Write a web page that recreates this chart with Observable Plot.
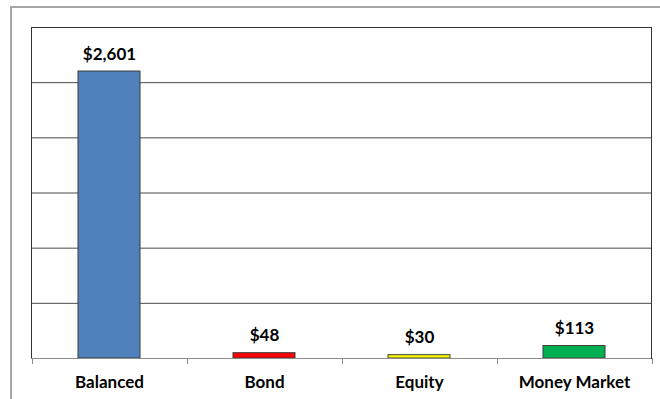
<!DOCTYPE html>
<html><head><meta charset="utf-8">
<script src="https://cdn.jsdelivr.net/npm/d3@7"></script>
<script src="https://cdn.jsdelivr.net/npm/@observablehq/plot@0.6"></script>
<style>
body{margin:0;background:#fff;}
#wrap{position:relative;width:660px;height:399px;overflow:hidden;}
#border{position:absolute;left:10px;top:6px;width:700px;height:500px;border:2px solid #a6a6a6;}
#chart{position:absolute;left:0;top:0;}
</style></head><body>
<div id="wrap"><div id="border"></div><div id="chart"></div></div>
<script>
const categories = ["Balanced", "Bond", "Equity", "Money Market"];
const values = [2601, 48, 30, 113];
const colors = ["#4F81BD", "#FF0000", "#FFFF00", "#00B050"];
const gridTicks = [500, 1000, 1500, 2000, 2500, 3000];

const data = categories.map((c, i) => ({category: c, value: values[i], color: colors[i]}));
const paddingInner = 0.6;

function boundaryTicks(index, scales) {
  const x = scales.x;
  const lefts = categories.map(c => x(c));
  const step = lefts[1] - lefts[0];
  const bw = step * (1 - paddingInner);
  const bounds = lefts.map(l => l - (step - bw) / 2);
  bounds.push(bounds[bounds.length - 1] + step);
  const y0 = scales.y(0);
  const g = d3.create("svg:g").attr("stroke", "#8c8c8c").attr("stroke-width", 1);
  for (const b of bounds) {
    const xb = Math.round(b) + 0.5;
    g.append("line").attr("x1", xb).attr("x2", xb).attr("y1", y0).attr("y2", y0 + 6);
  }
  return g.node();
}

const chart = Plot.plot({
  width: 660,
  height: 399,
  marginLeft: 31,
  marginRight: 9,
  marginTop: 27,
  marginBottom: 41,
  style: {fontFamily: "Lato, 'Open Sans', sans-serif", fontSize: "17px", fontWeight: "bold", color: "#000", background: "transparent"},
  x: {domain: categories, paddingInner: paddingInner, paddingOuter: 0.3, label: null},
  y: {domain: [0, 3000], axis: null},
  marks: [
    Plot.ruleY(gridTicks, {stroke: "#4a4a4a", strokeWidth: 1}),
    Plot.frame({stroke: "#333", strokeWidth: 1}),
    Plot.barY(data, {x: "category", y: "value", fill: "color", stroke: "#3a3a3a", strokeWidth: 1}),
    Plot.ruleY([0], {stroke: "#8c8c8c", strokeWidth: 1}),
    boundaryTicks,
    Plot.text(data, {x: "category", y: "value", text: d => "$" + d3.format(",")(d.value), lineAnchor: "bottom", dy: -12, fill: "#000", fontSize: 17, fontWeight: "bold"}),
    Plot.axisX({tickSize: 0, tickPadding: 17, fontSize: 17, fontWeight: "bold", fill: "#000", label: null})
  ]
});
document.getElementById("chart").appendChild(chart);
</script>
</body></html>
